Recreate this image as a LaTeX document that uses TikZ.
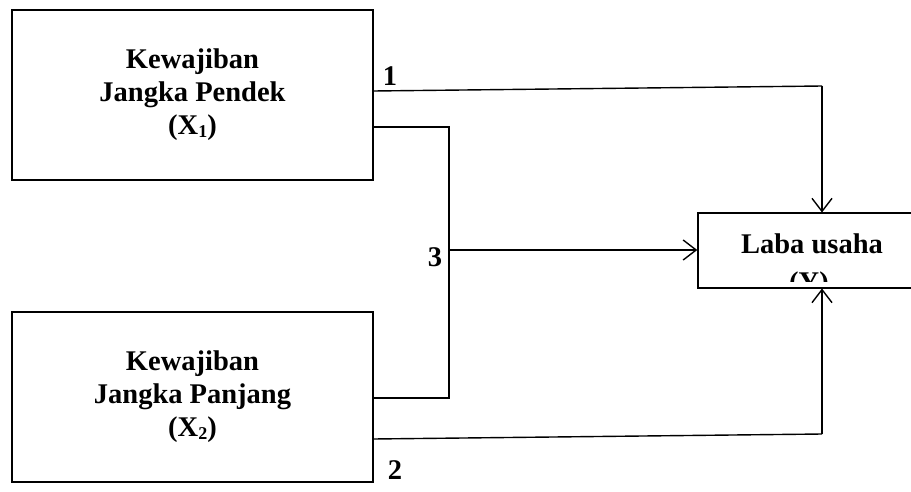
\documentclass[tikz,border=0pt]{standalone}
\usepackage{fontspec}
\setmainfont{Liberation Serif}
\usetikzlibrary{arrows.meta}
\begin{document}
\begin{tikzpicture}[x=1pt,y=-1pt,
  box/.style={draw,line width=1.4pt,inner sep=0pt,align=center,font=\bfseries\fontsize{28.5}{33}\selectfont},
  lbl/.style={font=\bfseries\fontsize{28.5}{33}\selectfont,inner sep=0pt},
  conn/.style={line width=1.4pt},
  arr/.style={line width=1.4pt,-{Straight Barb[length=13pt,width=20pt,line width=1.4pt]}}]
\useasboundingbox (0,0) rectangle (911,491);
\newcommand{\sbx}[1]{{\fontsize{18}{18}\selectfont\raisebox{-3pt}{#1}}}
\node[box,minimum width=361pt,minimum height=170pt] (b1) at (192.5,95) {Kewajiban\\Jangka Pendek\\(X\sbx{1})};
\node[box,minimum width=361pt,minimum height=170pt] (b2) at (192.5,397) {Kewajiban\\Jangka Panjang\\(X\sbx{2})};
\node[box,minimum width=218pt,minimum height=75pt] (laba) at (807,250.5) {};
\begin{scope}
\clip (698,214) rectangle (911,281);
\node[lbl,anchor=base] (labatxt) at (812,253) {Laba usaha};
\node[lbl,anchor=base] (labay) at (809,291) {(Y)};
\end{scope}
% path 1
\coordinate (p1a) at (373,91);
\coordinate (p1b) at (822,86);
\draw[conn] (p1a) -- (p1b);
\draw[arr] (p1b) -- (822,212.5);
% bracket 3
\coordinate (t3) at (449,127);
\coordinate (m3) at (449,250);
\coordinate (u3) at (449,398);
\draw[conn] (b1.east |- t3) -- (t3) -- (u3) -- (b2.east |- u3);
\draw[arr] (m3) -- (laba.west |- m3);
% path 2
\coordinate (p2a) at (373,439);
\coordinate (p2b) at (822,434);
\draw[conn] (p2a) -- (p2b);
\draw[arr] (p2b) -- (822,288.5);
% labels
\node[lbl] (n1) at (390,76) {1};
\node[lbl] (n3) at (435,257) {3};
\node[lbl] (n2) at (395,470) {2};
\end{tikzpicture}
\end{document}
